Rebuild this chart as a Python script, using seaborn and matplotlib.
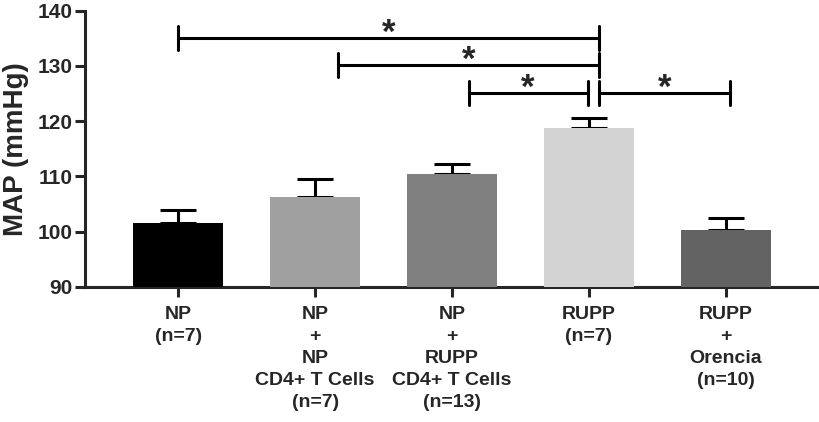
import numpy as np
import pandas as pd
import matplotlib
matplotlib.use('Agg')
import matplotlib.pyplot as plt
import seaborn as sns

# data
groups = ['NP\n(n=7)',
          'NP\n+\nNP\nCD4+ T Cells\n(n=7)',
          'NP\n+\nRUPP\nCD4+ T Cells\n(n=13)',
          'RUPP\n(n=7)',
          'RUPP\n+\nOrencia\n(n=10)']
map_mean = [101.6, 106.3, 110.4, 118.8, 100.3]
map_sem = [2.3, 3.2, 1.8, 1.8, 2.1]
bar_colors = ['#000000', '#a0a0a0', '#808080', '#d3d3d3', '#636363']

# significance brackets: (start, end, height)
sig_start = [0.0, 1.17, 2.12, 3.07]
sig_end = [3.07, 3.07, 2.99, 4.03]
sig_height = [135.0, 130.2, 125.1, 125.1]

sns.set_style('ticks')
plt.rcParams['font.family'] = ['Liberation Sans', 'DejaVu Sans']
plt.rcParams['font.weight'] = 'bold'

df = pd.DataFrame({'group': groups, 'MAP': map_mean})

fig = plt.figure(figsize=(8.19, 4.22), dpi=100)
ax = fig.add_axes([0.104, 0.32, 0.896, 0.655])

sns.barplot(data=df, x='group', y='MAP', hue='group', palette=bar_colors,
            legend=False, errorbar=None, width=0.66, ax=ax, zorder=3)
for p in ax.patches:
    p.set_edgecolor('none')

xpos = np.arange(len(groups))
ax.errorbar(xpos, map_mean, yerr=[np.zeros(len(map_sem)), map_sem],
            fmt='none', ecolor='black', elinewidth=2.2, capsize=13,
            capthick=2.2, zorder=2)

tick_h = 2.2
for s, e, h in zip(sig_start, sig_end, sig_height):
    ax.plot([s, e], [h, h], color='black', lw=2.2, solid_capstyle='butt')
    ax.plot([s, s], [h - tick_h, h + tick_h], color='black', lw=2.2)
    ax.plot([e, e], [h - tick_h, h + tick_h], color='black', lw=2.2)
    ax.text((s + e) / 2, h - 0.9, '*', ha='center', va='baseline',
            fontsize=25, fontweight='bold')

ax.set_ylim(90, 140)
ax.set_yticks([90, 100, 110, 120, 130, 140])
ax.set_xlim(-0.68, 4.68)
ax.set_xticks(xpos, groups, fontsize=14, fontweight='bold', linespacing=1.38)
ax.set_xlabel('')
ax.set_ylabel('MAP (mmHg)', fontsize=20, fontweight='bold', labelpad=6)
ax.tick_params(axis='y', labelsize=15, width=2.2, length=7, pad=2)
ax.tick_params(axis='x', labelsize=14, width=2.2, length=7, pad=7)
for lab in ax.get_yticklabels():
    lab.set_fontweight('bold')

sns.despine(ax=ax)
ax.spines['left'].set_linewidth(2.2)
ax.spines['bottom'].set_linewidth(2.2)

fig.savefig('out.png', dpi=100)
